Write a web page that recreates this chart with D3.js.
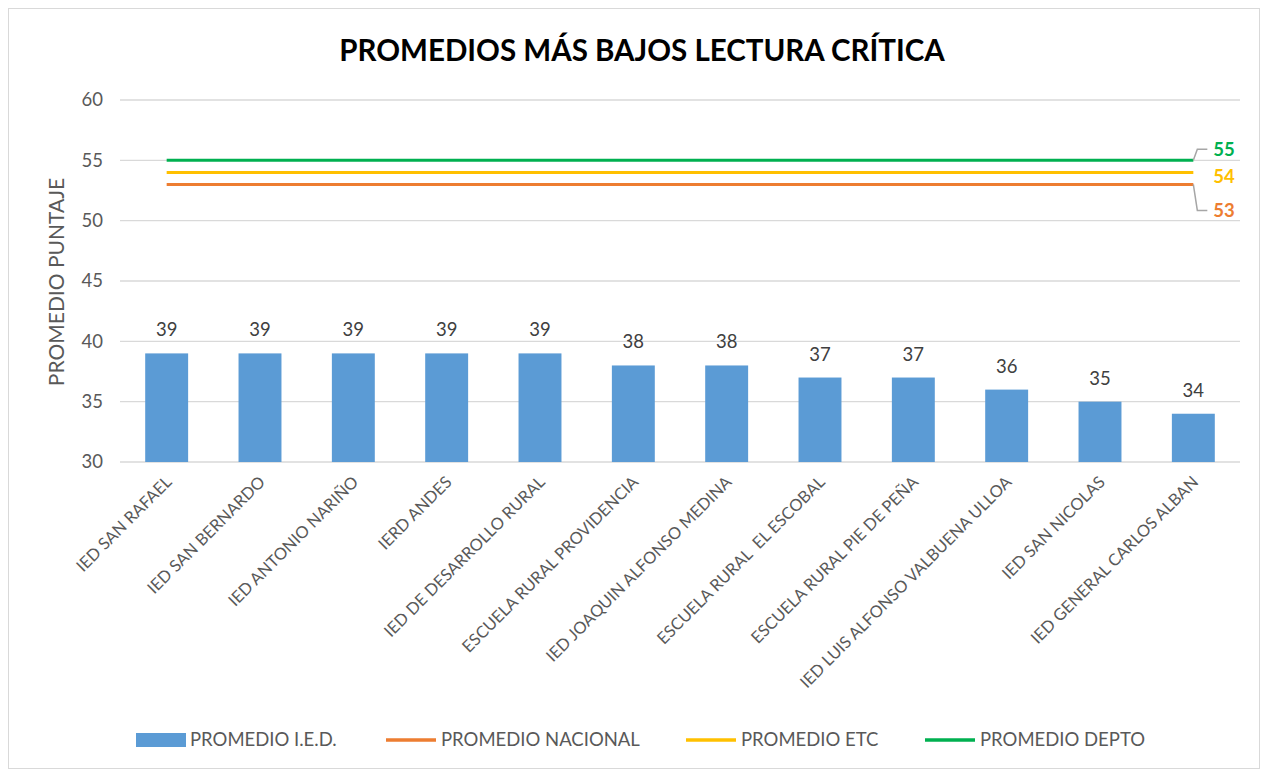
<!DOCTYPE html>
<html>
<head>
<meta charset="utf-8">
<script src="https://cdn.jsdelivr.net/npm/d3@7"></script>
<style>
  body { margin: 0; background: #fff; }
  text { font-family: Lato, "Open Sans", sans-serif; }
</style>
</head>
<body>
<div id="chart"></div>
<script>
// data
var schools = ["IED SAN RAFAEL", "IED SAN BERNARDO", "IED ANTONIO NARIÑO", "IERD ANDES",
  "IED DE DESARROLLO RURAL", "ESCUELA RURAL PROVIDENCIA", "IED JOAQUIN ALFONSO MEDINA",
  "ESCUELA RURAL  EL ESCOBAL", "ESCUELA RURAL PIE DE PEÑA", "IED LUIS ALFONSO VALBUENA ULLOA",
  "IED SAN NICOLAS", "IED GENERAL CARLOS ALBAN"];
var promedioIED = [39, 39, 39, 39, 39, 38, 38, 37, 37, 36, 35, 34];
var promedioNacional = 53;
var promedioETC = 54;
var promedioDepto = 55;
var yTicks = [30, 35, 40, 45, 50, 55, 60];

var W = 1268, H = 772;
var margin = {top: 100, right: 28, bottom: 310, left: 120},
    width = W - margin.left - margin.right,
    height = H - margin.top - margin.bottom;

var svg = d3.select("#chart").append("svg")
    .attr("width", W)
    .attr("height", H);

// chart border
svg.append("rect")
    .attr("x", 8.5).attr("y", 8.5)
    .attr("width", W - 17).attr("height", H - 12)
    .attr("fill", "none")
    .attr("stroke", "#d9d9d9");

svg.append("text")
    .attr("x", 642).attr("y", 61)
    .attr("text-anchor", "middle")
    .style("font-size", "29.5px")
    .style("font-weight", "bold")
    .attr("fill", "#000")
    .text("PROMEDIOS MÁS BAJOS LECTURA CRÍTICA");

var g = svg.append("g")
    .attr("transform", "translate(" + margin.left + "," + margin.top + ")");

var x = d3.scaleBand().domain(schools).range([0, width]).paddingInner(0.54).paddingOuter(0.27);
var y = d3.scaleLinear().domain([30, 60]).range([height, 0]);

// grid
g.selectAll(".grid").data(yTicks).enter().append("line")
    .attr("x1", 0).attr("x2", width)
    .attr("y1", function(d) { return y(d); })
    .attr("y2", function(d) { return y(d); })
    .attr("stroke", "#d9d9d9").attr("stroke-width", 1.3);

// y tick labels
var yAxis = g.append("g").call(d3.axisLeft(y).tickValues(yTicks).tickSize(0).tickPadding(17));
yAxis.select(".domain").remove();
yAxis.selectAll("text")
    .style("font-size", "18.5px")
    .style("font-family", "Lato, 'Open Sans', sans-serif")
    .attr("fill", "#595959");

svg.append("text")
    .attr("transform", "translate(64," + (margin.top + 182) + ") rotate(-90)")
    .attr("text-anchor", "middle")
    .style("font-size", "21px")
    .attr("fill", "#595959")
    .text("PROMEDIO PUNTAJE");

// bars
g.selectAll(".bar").data(promedioIED).enter().append("rect")
    .attr("x", function(d, i) { return x(schools[i]); })
    .attr("width", x.bandwidth())
    .attr("y", function(d) { return y(d); })
    .attr("height", function(d) { return height - y(d); })
    .attr("fill", "#5b9bd5");

g.selectAll(".val").data(promedioIED).enter().append("text")
    .attr("x", function(d, i) { return x(schools[i]) + x.bandwidth() / 2; })
    .attr("y", function(d) { return y(d) - 17; })
    .attr("text-anchor", "middle")
    .style("font-size", "18.5px")
    .attr("fill", "#404040")
    .text(function(d) { return d; });

// x labels
var xAxis = g.append("g")
    .attr("transform", "translate(0," + height + ")")
    .call(d3.axisBottom(x).tickSize(0).tickPadding(0));
xAxis.select(".domain").remove();
xAxis.selectAll("text")
    .style("font-size", "16.5px")
    .style("font-family", "Lato, 'Open Sans', sans-serif")
    .style("white-space", "pre")
    .attr("fill", "#595959")
    .attr("text-anchor", "end")
    .attr("dy", "0.35em")
    .attr("transform", "translate(2,17) rotate(-45)");

// reference lines
var refs = [
  {name: "PROMEDIO NACIONAL", v: promedioNacional, color: "#ed7d31"},
  {name: "PROMEDIO ETC", v: promedioETC, color: "#ffc000"},
  {name: "PROMEDIO DEPTO", v: promedioDepto, color: "#00b050"}
];
var x0 = x(schools[0]) + x.bandwidth() / 2,
    x1 = x(schools[schools.length - 1]) + x.bandwidth() / 2;

refs.forEach(function(r) {
  g.append("line")
      .attr("x1", x0).attr("x2", x1)
      .attr("y1", y(r.v)).attr("y2", y(r.v))
      .attr("stroke", r.color).attr("stroke-width", 3);
});

// end labels with leaders
var lblOffset = {55: -11, 54: 4, 53: 26};
refs.forEach(function(r) {
  var ly = y(r.v) + lblOffset[r.v];
  if (r.v !== 54) {
    g.append("polyline")
        .attr("points", [[x1, y(r.v)], [x1 + 4, ly], [x1 + 14, ly]].map(function(p) { return p.join(","); }).join(" "))
        .attr("fill", "none").attr("stroke", "#a6a6a6").attr("stroke-width", 1.5);
  }
  g.append("text")
      .attr("x", x1 + 20).attr("y", ly)
      .attr("dy", "0.35em")
      .style("font-size", "18.5px")
      .style("font-weight", "bold")
      .attr("fill", r.color)
      .text(r.v);
});

// legend
var legend = svg.append("g").attr("transform", "translate(0,740)");
legend.append("rect").attr("x", 136).attr("y", -7).attr("width", 50).attr("height", 14).attr("fill", "#5b9bd5");
legend.append("text").attr("x", 190).attr("dy", "0.35em").style("font-size", "18.5px").attr("fill", "#595959").text("PROMEDIO I.E.D.");
var legX = [386, 686, 925];
refs.forEach(function(r, i) {
  legend.append("line").attr("x1", legX[i]).attr("x2", legX[i] + 50)
      .attr("stroke", r.color).attr("stroke-width", 3.5);
  legend.append("text").attr("x", legX[i] + 55).attr("dy", "0.35em")
      .style("font-size", "18.5px").attr("fill", "#595959").text(r.name);
});
</script>
</body>
</html>
